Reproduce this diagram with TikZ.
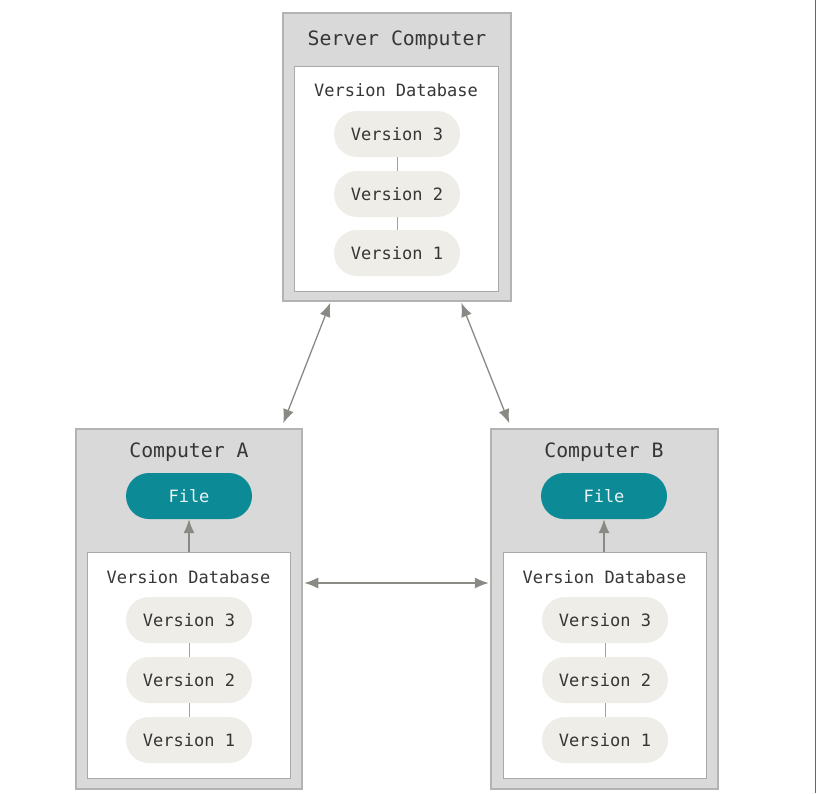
\documentclass[tikz,border=0pt]{standalone}
\usepackage{fontspec}
\setmonofont{DejaVu Sans Mono}
\usetikzlibrary{arrows.meta,calc}
\definecolor{boxgray}{HTML}{D9D9D9}
\definecolor{boxedge}{HTML}{B3B3B3}
\definecolor{inneredge}{HTML}{A9A9A9}
\definecolor{pill}{HTML}{EEEDE7}
\definecolor{teal}{HTML}{0C8A95}
\definecolor{txt}{HTML}{363636}
\definecolor{arr}{HTML}{8A8A84}
\tikzset{
  outerbox/.style={draw=boxedge, fill=boxgray, line width=1.5pt, inner sep=0pt},
  innerbox/.style={draw=inneredge, fill=white, line width=1pt, inner sep=0pt},
  titletext/.style={font=\ttfamily\fontsize{19.8}{22}\selectfont, text=txt},
  dbtext/.style={font=\ttfamily\fontsize{17}{20}\selectfont, text=txt},
  verpill/.style={fill=pill, rounded corners=23pt, minimum width=126pt, minimum height=46pt, inner sep=0pt, font=\ttfamily\fontsize{17}{20}\selectfont, text=txt},
  filepill/.style={fill=teal, rounded corners=23pt, minimum width=126pt, minimum height=46pt, inner sep=0pt, font=\ttfamily\fontsize{17}{20}\selectfont, text=white!90!teal},
  vline/.style={draw=arr!80, line width=0.8pt},
  dblarrow/.style={draw=arr, line width=1.3pt, {Latex[length=14pt,width=11pt]}-{Latex[length=14pt,width=11pt]}},
  uparrow/.style={draw=arr, line width=1.3pt, -{Latex[length=14pt,width=11pt]}}
}
\begin{document}
\begin{tikzpicture}[x=1pt,y=-1pt]
\useasboundingbox (0,0) rectangle (816,793);
% right edge artifact line
\draw[draw=gray!80!black, line width=1.2pt] (815.4,0) coordinate (e1) -- (815.4,793) coordinate (e2);

% Server
\node[outerbox, minimum width=228pt, minimum height=288pt] (srv) at (397,157) {};
\node[innerbox, minimum width=204pt, minimum height=225pt] (srvdb) at (396,178.5) {};
\node[titletext] (srvt) at (397,40) {Server Computer};
\node[dbtext] (srvdbt) at (396,90) {Version Database};
\node[verpill] (s3) at (397,134) {Version 3};
\node[verpill] (s2) at (397,194) {Version 2};
\node[verpill] (s1) at (397,253) {Version 1};
\draw[vline] (s3.south) -- (s2.north);
\draw[vline] (s2.south) -- (s1.north);

% Computer A
\node[outerbox, minimum width=226pt, minimum height=360pt] (ca) at (189,609) {};
\node[innerbox, minimum width=203pt, minimum height=226pt] (cadb) at (188.5,665) {};
\node[titletext] (cat) at (189,452) {Computer A};
\node[filepill] (fa) at (189,496) {File};
\node[dbtext] (cadbt) at (188.5,577) {Version Database};
\node[verpill] (a3) at (189,620) {Version 3};
\node[verpill] (a2) at (189,680) {Version 2};
\node[verpill] (a1) at (189,740) {Version 1};
\draw[vline] (a3.south) -- (a2.north);
\draw[vline] (a2.south) -- (a1.north);
\draw[uparrow] (cadb.north -| fa.south) -- (fa.south);

% Computer B
\node[outerbox, minimum width=227pt, minimum height=360pt] (cb) at (604.5,609) {};
\node[innerbox, minimum width=203pt, minimum height=226pt] (cbdb) at (604.5,665) {};
\node[titletext] (cbt) at (604,452) {Computer B};
\node[filepill] (fb) at (604,496) {File};
\node[dbtext] (cbdbt) at (604.5,577) {Version Database};
\node[verpill] (b3) at (605,620) {Version 3};
\node[verpill] (b2) at (605,680) {Version 2};
\node[verpill] (b1) at (605,740) {Version 1};
\draw[vline] (b3.south) -- (b2.north);
\draw[vline] (b2.south) -- (b1.north);
\draw[uparrow] (cbdb.north -| fb.south) -- (fb.south);

% Connectors
\coordinate (sa) at ($(srv.south west)+(48,1)$);
\coordinate (sb) at ($(srv.south west)+(179,1)$);
\coordinate (ta) at ($(ca.north west)+(208,-5)$);
\coordinate (tb) at ($(cb.north west)+(19,-5)$);
\draw[dblarrow] (sa) -- (ta);
\draw[dblarrow] (sb) -- (tb);
\coordinate (ha) at ($(ca.east)+(1.5,-26)$);
\coordinate (hb) at ($(cb.west)+(-1.5,-26)$);
\draw[dblarrow] (ha) -- (hb);
\end{tikzpicture}
\end{document}
